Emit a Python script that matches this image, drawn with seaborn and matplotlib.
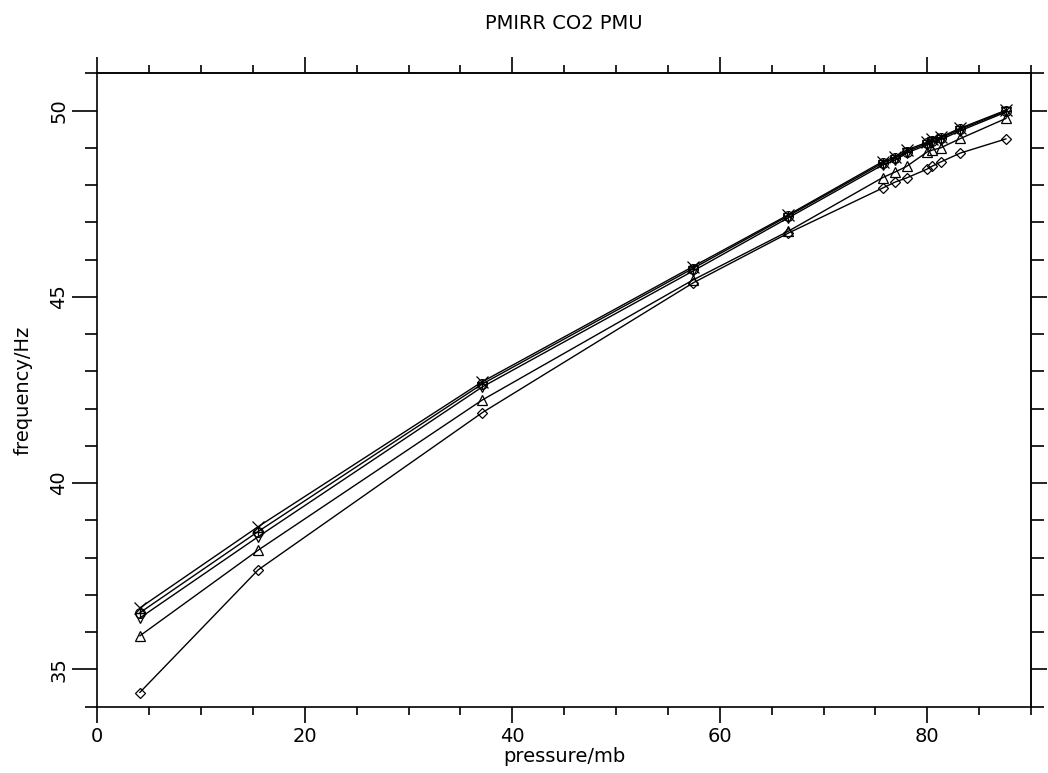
import numpy as np
import pandas as pd
import matplotlib
matplotlib.use("Agg")
import matplotlib.pyplot as plt
from matplotlib.path import Path
from matplotlib.ticker import MultipleLocator
import seaborn as sns

# Cell pressure (mb) and PMU frequency (Hz) for each run
pressure = [4.1, 15.5, 37.1, 57.4, 66.6, 75.7, 76.9, 78.0, 80.0, 80.5, 81.3, 83.2, 87.6]
freq_cross = [36.65, 38.83, 42.72, 45.81, 47.20, 48.63, 48.76, 48.94, 49.15, 49.23, 49.29, 49.53, 50.01]
freq_oplus = [36.52, 38.70, 42.66, 45.76, 47.17, 48.59, 48.72, 48.90, 49.12, 49.19, 49.26, 49.50, 49.99]
freq_tridown = [36.38, 38.56, 42.58, 45.69, 47.12, 48.54, 48.67, 48.86, 49.08, 49.15, 49.22, 49.46, 49.96]
freq_triup = [35.90, 38.20, 42.23, 45.45, 46.76, 48.20, 48.35, 48.50, 48.89, 48.94, 49.00, 49.25, 49.79]
freq_diamond = [34.38, 37.67, 41.89, 45.37, 46.71, 47.92, 48.08, 48.19, 48.43, 48.51, 48.62, 48.86, 49.24]

x_ticks = [0, 20, 40, 60, 80]
y_ticks = [35, 40, 45, 50]

sns.set_style("white")
plt.rcParams["font.family"] = ["DejaVu Sans"]
plt.rcParams["text.color"] = "black"
plt.rcParams["axes.labelcolor"] = "black"

# circle-with-plus marker
circ = Path.unit_circle()
plus = Path([(-1, 0), (1, 0), (0, -1), (0, 1)],
            [Path.MOVETO, Path.LINETO, Path.MOVETO, Path.LINETO])
oplus = Path.make_compound_path(circ, plus)

series = [
    (freq_cross, "x", 8),
    (freq_oplus, oplus, 7),
    (freq_tridown, "v", 7.5),
    (freq_triup, "^", 7.5),
    (freq_diamond, "D", 5),
]

fig = plt.figure(figsize=(10.48, 7.73), dpi=100)
ax = fig.add_axes([0.0928, 0.0858, 0.8910, 0.8194])

for vals, mk, ms in series:
    df = pd.DataFrame({"pressure": pressure, "frequency": vals})
    sns.lineplot(data=df, x="pressure", y="frequency", ax=ax, color="black",
                 linewidth=1.0, marker=mk, markersize=ms,
                 markerfacecolor="none", markeredgecolor="black",
                 markeredgewidth=0.9, legend=False)

ax.set_xlim(0, 90)
ax.set_ylim(34, 51)
ax.set_xticks(x_ticks)
ax.set_yticks(y_ticks)
ax.xaxis.set_minor_locator(MultipleLocator(5))
ax.yaxis.set_minor_locator(MultipleLocator(1))

for s in ax.spines.values():
    s.set_linewidth(1.2)
    s.set_color("black")

ax.tick_params(axis="x", which="both", bottom=True, top=False)
ax.tick_params(axis="y", which="both", left=True, right=False)
ax.tick_params(axis="x", which="major", direction="out", length=11.5, width=1.2,
               labelsize=14, pad=3, colors="black")
ax.tick_params(axis="x", which="minor", direction="out", length=5.8, width=1.2,
               color="black")
ax.tick_params(axis="y", which="major", direction="out", length=18, width=1.2,
               labelsize=14, pad=3, colors="black")
ax.tick_params(axis="y", which="minor", direction="out", length=8.6, width=1.2,
               color="black")
for lab in ax.get_yticklabels():
    lab.set_rotation(90)
    lab.set_va("center")

# mirrored tick marks on top and right
top = ax.secondary_xaxis("top")
top.set_xticks(x_ticks)
top.xaxis.set_minor_locator(MultipleLocator(5))
top.tick_params(which="both", top=True, color="black")
top.tick_params(which="major", direction="out", length=11.5, width=1.2, labeltop=False)
top.tick_params(which="minor", direction="out", length=5.8, width=1.2)
top.spines["top"].set_linewidth(1.2)

right = ax.secondary_yaxis("right")
right.set_yticks(y_ticks)
right.yaxis.set_minor_locator(MultipleLocator(1))
right.tick_params(which="both", right=True, color="black")
right.tick_params(which="major", direction="out", length=11.5, width=1.2, labelright=False)
right.tick_params(which="minor", direction="out", length=9.5, width=1.2)
right.spines["right"].set_linewidth(1.2)

ax.set_xlabel("pressure/mb", fontsize=14, labelpad=1)
ax.set_ylabel("frequency/Hz", fontsize=14, labelpad=12)
ax.set_title("PMIRR CO2 PMU", fontsize=14, pad=32)

fig.savefig("out.png", dpi=100, facecolor="white")
